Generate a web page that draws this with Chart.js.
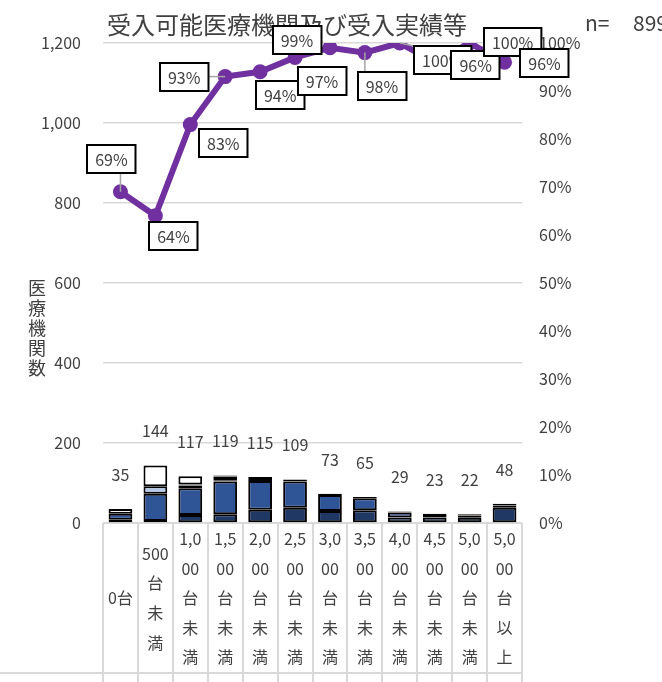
<!DOCTYPE html>
<html>
<head>
<meta charset="utf-8">
<script src="https://cdn.jsdelivr.net/npm/chart.js@4.4.1/dist/chart.umd.min.js"></script>
<style>
  html, body { margin: 0; padding: 0; background: #fff; }
  #wrap { width: 662px; height: 682px; }
</style>
</head>
<body>
<div id="wrap"><canvas id="chart"></canvas></div>
<script>
// ==================== DATA ====================
const categories = [
  ['0台'],
  ['500', '台', '未', '満'],
  ['1,0', '00', '台', '未', '満'],
  ['1,5', '00', '台', '未', '満'],
  ['2,0', '00', '台', '未', '満'],
  ['2,5', '00', '台', '未', '満'],
  ['3,0', '00', '台', '未', '満'],
  ['3,5', '00', '台', '未', '満'],
  ['4,0', '00', '台', '未', '満'],
  ['4,5', '00', '台', '未', '満'],
  ['5,0', '00', '台', '未', '満'],
  ['5,0', '00', '台', '以', '上']
];

// stacked segments, bottom to top (医療機関数)
const segNavy  = [8, 5, 20, 22, 33, 38, 30, 32, 14, 14, 13, 38];
const segBlue  = [15, 68, 67, 82, 72, 66, 40, 30, 12, 6, 6, 6];
const segLight = [0, 19, 7, 3, 0, 0, 0, 0, 0, 0, 0, 0];
const segGray  = [0, 0, 2, 9, 5, 5, 3, 3, 0, 3, 3, 4];
const segWhite = [12, 52, 21, 3, 5, 0, 0, 0, 3, 0, 0, 0];

const totals = [35, 144, 117, 119, 115, 109, 73, 65, 29, 23, 22, 48];

// 受入率 (%)
const acceptRate = [69, 64, 83, 93, 94, 97, 99, 98, 100, 96, 100, 96];

const leftTicks = [0, 200, 400, 600, 800, 1000, 1200];
const rightTicks = [0, 10, 20, 30, 40, 50, 60, 70, 80, 90, 100];

// label box offsets from each point (px) and which ones have a leader line
const boxDx = [-9, 18, 33, -41, 20, 27, -33, 17, 43, 41, 43, 40];
const boxDy = [-33, 20, 18, 0, 23, 24, -8, 33, 17, 3, -1, 1];
const hasLeader = [true, false, false, true, false, false, false, true, true, false, false, false];

const FONT = '"Noto Sans CJK JP", "Noto Sans", sans-serif';
const TEXT = '#404040';

function nz(arr) { return arr.map(v => v > 0 ? v : null); }

function barSet(label, data, color) {
  return {
    type: 'bar',
    label: label,
    data: nz(data),
    backgroundColor: color,
    borderColor: '#000000',
    borderWidth: 2,
    borderSkipped: false,
    barPercentage: 0.68,
    categoryPercentage: 1,
    stack: 's',
    yAxisID: 'y',
    order: 1
  };
}

// ==================== PLUGIN ====================
const extras = {
  id: 'extras',
  beforeDraw(chart) {
    const ctx = chart.ctx;
    ctx.save();
    ctx.fillStyle = '#ffffff';
    ctx.fillRect(0, 0, chart.width, chart.height);
    ctx.restore();
  },
  beforeDatasetsDraw(chart) {
    const ctx = chart.ctx;
    const y = chart.scales.y;
    ctx.save();
    ctx.fillStyle = TEXT;
    ctx.textBaseline = 'middle';
    ctx.font = '24px ' + FONT;
    ctx.textAlign = 'center';
    ctx.fillText('受入可能医療機関及び受入実績等', 287, 25);
    ctx.font = '21px ' + FONT;
    ctx.textAlign = 'left';
    ctx.fillText('n=', 585, 23);
    ctx.fillText('899', 633, 23);

    // vertical axis title
    ctx.font = '18px ' + FONT;
    ctx.textAlign = 'center';
    const chars = ['医', '療', '機', '関', '数'];
    const top = y.getPixelForValue(588);
    chars.forEach((c, i) => ctx.fillText(c, 37, top + i * 20));

    // table under the axis
    const x = chart.scales.x;
    const step = x.getPixelForValue(1) - x.getPixelForValue(0);
    const y0 = y.getPixelForValue(0);
    ctx.strokeStyle = '#D9D9D9';
    ctx.lineWidth = 2;
    ctx.beginPath();
    for (let i = 0; i <= categories.length; i++) {
      const px = Math.round(x.getPixelForValue(0) - step / 2 + i * step);
      ctx.moveTo(px, y0);
      ctx.lineTo(px, chart.height);
    }
    ctx.moveTo(0, 673);
    ctx.lineTo(x.right, 673);
    ctx.moveTo(x.left, y0);
    ctx.lineTo(x.right, y0);
    ctx.stroke();
    ctx.restore();
  },
  afterDatasetsDraw(chart) {
    const ctx = chart.ctx;
    const x = chart.scales.x;
    const y = chart.scales.y;
    const y2 = chart.scales.y2;
    ctx.save();

    // totals above the stacks
    ctx.font = '16px ' + FONT;
    ctx.fillStyle = TEXT;
    ctx.textAlign = 'center';
    ctx.textBaseline = 'middle';
    totals.forEach((t, i) => {
      ctx.fillText(String(t), x.getPixelForValue(i), y.getPixelForValue(t) - 34);
    });

    // percentage boxes
    const boxes = acceptRate.map((v, i) => {
      const px = x.getPixelForValue(i);
      const py = y2.getPixelForValue(v);
      const txt = v + '%';
      const w = ctx.measureText(txt).width + 16;
      const h = 28;
      const cx = px + boxDx[i];
      const cy = py + boxDy[i];
      return { px, py, txt, w, h, cx, cy, i };
    });

    ctx.strokeStyle = '#A6A6A6';
    ctx.lineWidth = 1.5;
    boxes.forEach(b => {
      if (!hasLeader[b.i]) return;
      const ex = Math.max(b.cx - b.w / 2, Math.min(b.px, b.cx + b.w / 2));
      const ey = Math.max(b.cy - b.h / 2, Math.min(b.py, b.cy + b.h / 2));
      ctx.beginPath();
      ctx.moveTo(b.px, b.py);
      ctx.lineTo(ex, ey);
      ctx.stroke();
    });

    boxes.forEach(b => {
      const lx = Math.round(b.cx - b.w / 2);
      const ly = Math.round(b.cy - b.h / 2);
      ctx.fillStyle = '#ffffff';
      ctx.fillRect(lx, ly, b.w, b.h);
      ctx.strokeStyle = '#000000';
      ctx.lineWidth = 2;
      ctx.strokeRect(lx, ly, b.w, b.h);
      ctx.fillStyle = TEXT;
      ctx.fillText(b.txt, b.cx, b.cy + 1);
    });
    ctx.restore();
  }
};

// ==================== CHART ====================
new Chart(document.getElementById('chart').getContext('2d'), {
  data: {
    labels: categories,
    datasets: [
      {
        type: 'line',
        label: '受入率',
        data: acceptRate,
        yAxisID: 'y2',
        borderColor: '#7030A0',
        backgroundColor: '#7030A0',
        borderWidth: 6,
        pointRadius: 7.5,
        pointBackgroundColor: '#7030A0',
        pointBorderWidth: 0,
        tension: 0,
        order: 0
      },
      barSet('a', segNavy, '#203864'),
      barSet('b', segBlue, '#2F5597'),
      barSet('c', segLight, '#B4C7E7'),
      barSet('d', segGray, '#7F7F7F'),
      barSet('e', segWhite, '#FFFFFF')
    ]
  },
  options: {
    responsive: true,
    maintainAspectRatio: false,
    animation: false,
    layout: { padding: { top: 43, left: 0, right: 0, bottom: 0 } },
    plugins: {
      legend: { display: false },
      tooltip: { enabled: false },
      title: { display: false }
    },
    scales: {
      x: {
        stacked: true,
        grid: { display: false },
        border: { display: false },
        ticks: {
          color: TEXT,
          font: { family: FONT, size: 16, lineHeight: 1.85 },
          maxRotation: 0,
          autoSkip: false,
          crossAlign: 'center',
          padding: 8
        },
        afterFit(scale) { scale.height = 159; }
      },
      y: {
        stacked: true,
        position: 'left',
        min: 0,
        max: 1200,
        afterBuildTicks(scale) { scale.ticks = leftTicks.map(v => ({ value: v })); },
        grid: { color: '#D9D9D9', lineWidth: 1.5, drawTicks: false },
        border: { display: false },
        ticks: {
          color: TEXT,
          font: { family: FONT, size: 16 },
          padding: 22,
          callback: v => v.toLocaleString('en-US')
        },
        afterFit(scale) { scale.width = 103; }
      },
      y2: {
        position: 'right',
        min: 0,
        max: 100,
        afterBuildTicks(scale) { scale.ticks = rightTicks.map(v => ({ value: v })); },
        grid: { display: false, drawTicks: false },
        border: { display: false },
        ticks: {
          color: TEXT,
          font: { family: FONT, size: 16 },
          padding: 17,
          callback: v => v + '%'
        },
        afterFit(scale) { scale.width = 140; }
      }
    }
  },
  plugins: [extras]
});
</script>
</body>
</html>
